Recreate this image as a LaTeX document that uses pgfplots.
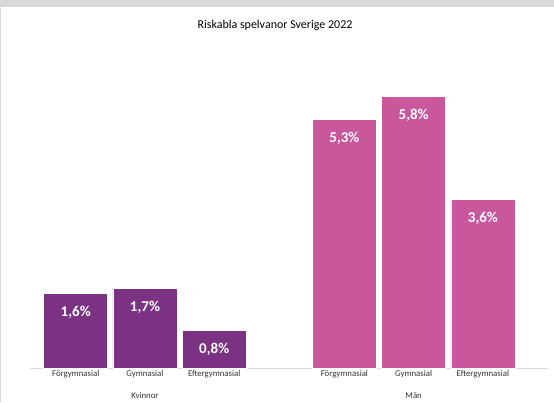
\documentclass[border=0pt]{standalone}
\usepackage{pgfplots}
\pgfplotsset{compat=1.18}
\usepackage{fontspec}
\setmainfont{Carlito}
\definecolor{kv}{RGB}{123,50,130}
\definecolor{ma}{RGB}{201,87,155}
\definecolor{fr}{RGB}{217,217,217}
\begin{document}
\begin{tikzpicture}[x=1pt,y=1pt]
\path[use as bounding box] (-30,-34) rectangle (524,368);
\fill[fr] (-30,361) rectangle (524,368);
\fill[fr] (-30,-34) rectangle (-29,368);
\begin{axis}[
  at={(0,0)}, anchor=south west,
  scale only axis, width=518pt, height=328pt,
  xmin=-0.66, xmax=6.82, ymin=0, ymax=7,
  axis line style={draw=none},
  axis x line*=bottom, axis y line=none,
  xtick={0,1,2,3.88,4.88,5.88},
  xticklabels={Förgymnasial,Gymnasial,Eftergymnasial,Förgymnasial,Gymnasial,Eftergymnasial},
  xtick style={draw=none},
  xticklabel style={font=\fontsize{8.8}{10}\selectfont, text=black!80, yshift=1pt},
  clip=false,
  nodes near coords={\pgfmathprintnumber[fixed,fixed zerofill,precision=1,use comma,assume math mode=true]{\pgfplotspointmeta}\%},
  nodes near coords style={anchor=north, yshift=-9pt, text=white, font=\fontsize{15}{17}\selectfont\bfseries},
]
\draw[fr, line width=0.8pt] (rel axis cs:0,0) -- (rel axis cs:1,0);
\addplot[ybar, bar shift=0pt, bar width=64pt, fill=kv, draw=white, line width=0.6pt] coordinates {(0,1.6) (1,1.7) (2,0.8)};
\addplot[ybar, bar shift=0pt, bar width=64pt, fill=ma, draw=white, line width=0.6pt] coordinates {(3.88,5.3) (4.88,5.8) (5.88,3.6)};
\node[font=\fontsize{8.8}{10}\selectfont, text=black!80] at ([yshift=-28pt]axis cs:1,0) {Kvinnor};
\node[font=\fontsize{8.8}{10}\selectfont, text=black!80] at ([yshift=-28pt]axis cs:4.88,0) {Män};
\end{axis}
\node[font=\fontsize{12}{14}\selectfont] at (245,343) {Riskabla spelvanor Sverige 2022};
\end{tikzpicture}
\end{document}
